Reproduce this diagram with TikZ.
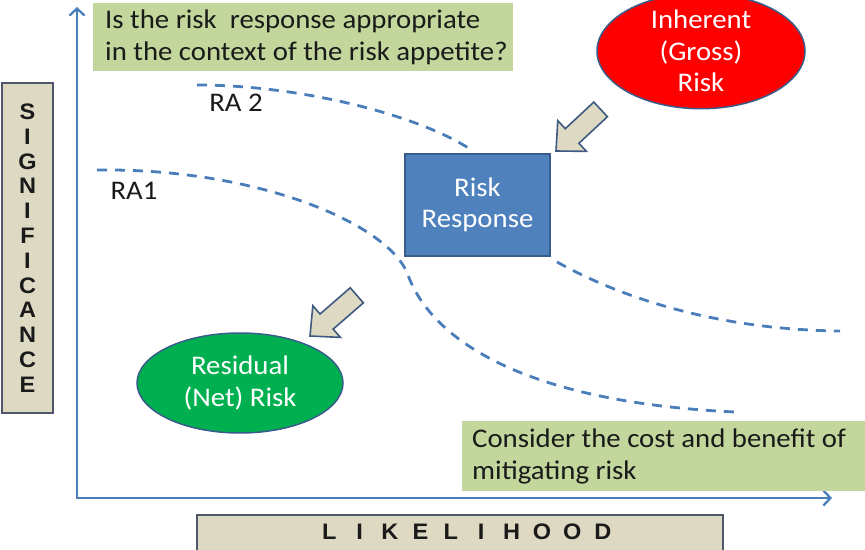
\documentclass[tikz,border=0pt]{standalone}
\usepackage{fontspec}
\setmainfont{Carlito}[FakeStretch=1.07]
\newfontfamily\axisfont{Liberation Sans}[FakeStretch=1.05]
\usetikzlibrary{shapes.geometric,arrows.meta}

\definecolor{axisblue}{HTML}{4A7EBB}
\definecolor{notegreen}{HTML}{C3D69B}
\definecolor{beige}{HTML}{DDD9C3}
\definecolor{frame}{HTML}{4E586A}
\definecolor{edgeblue}{HTML}{385D8A}
\definecolor{riskred}{HTML}{FF0000}
\definecolor{netgreen}{HTML}{00B050}
\definecolor{respblue}{HTML}{4F81BD}
\definecolor{arrowframe}{HTML}{3F5A80}
\definecolor{ink}{HTML}{1A1A1A}

\newcommand\bodyfont{\fontsize{27}{32}\selectfont}
\newcommand\axisletter[1]{\makebox[30.4bp]{#1}}

\tikzset{
  axis/.style={draw=axisblue, line width=2.3bp, line join=miter,
    {Straight Barb[length=7bp,width=15bp]}-{Straight Barb[length=7bp,width=15bp]}},
  riskline/.style={draw=axisblue, line width=2.8bp, dash pattern=on 10bp off 8bp},
  notebox/.style={fill=notegreen, inner sep=0, anchor=north west},
  notetext/.style={anchor=west, inner sep=0, align=left, text=ink, font=\bodyfont},
  labelbox/.style={fill=beige, draw=frame, line width=1.4bp, inner sep=0},
  axistext/.style={inner sep=0, align=center, text=ink,
    font={\axisfont\bfseries\fontsize{22.5}{24.9}\selectfont}},
  shapetext/.style={inner sep=0, align=center, text=white,
    font={\fontsize{27}{31.5}\selectfont}},
  riskellipse/.style={ellipse, draw=edgeblue, line width=1.5bp,
    minimum width=206bp, minimum height=100bp, shapetext},
  curvelabel/.style={inner sep=0, text=ink, font=\bodyfont},
  blockarrow/.style={fill=beige, draw=arrowframe, line width=1.6bp, line join=miter},
}

\begin{document}
\begin{tikzpicture}[x=1bp, y=-1bp]
\useasboundingbox (0,0) rectangle (865,550);

% axes
\coordinate (ytop) at (77,7);
\coordinate (origin) at (77,498);
\coordinate (xend) at (832,498);
\draw[axis] (ytop) -- (origin) -- (xend);

% axis captions
\node[labelbox, minimum width=51bp, minimum height=330bp] (sigbox) at (27.5,248) {};
\node[axistext] (sig) at (sigbox) {S\\I\\G\\N\\I\\F\\I\\C\\A\\N\\C\\E};
\node[labelbox, minimum width=526bp, minimum height=44bp] (likbox) at (460,537) {};
\node[axistext] (lik) at (466,532) {\axisletter{L}\axisletter{I}\axisletter{K}\axisletter{E}\axisletter{L}\axisletter{I}\axisletter{H}\axisletter{O}\axisletter{O}\axisletter{D}};

% risk appetite curves
\coordinate (ra2a) at (197,85);
\coordinate (ra2b) at (473,151);
\coordinate (ra2c) at (557,262);
\coordinate (ra2d) at (840,331);
\draw[riskline] (ra2a) .. controls (300,85) and (420,115) .. (ra2b);
\draw[riskline] (ra2c) .. controls (640,308) and (740,330) .. (ra2d);
\coordinate (ra1a) at (97,170);
\coordinate (ra1b) at (408,275);
\coordinate (ra1c) at (735,412);
\draw[riskline] (ra1a) .. controls (260,168) and (390,225) .. (ra1b)
  .. controls (422,314) and (480,400) .. (ra1c);
\node[curvelabel] (ra2) at (236,103) {RA 2};
\node[curvelabel] (ra1) at (134,191) {RA1};

% question boxes
\node[notebox, minimum width=420bp, minimum height=68bp] (qbox) at (93,3) {};
\node[notetext] (q) at ([xshift=12bp]qbox.west)
  {Is the risk\ \ response appropriate\\in the context of the risk appetite?};
\node[notebox, minimum width=403bp, minimum height=70bp] (cbox) at (462,421) {};
\node[notetext] (c) at ([xshift=10bp]cbox.west)
  {Consider the cost and benefit of\\mitigating risk};

% risk states
\node[riskellipse, fill=riskred, minimum width=208bp] (inherent) at (701,51) {Inherent\\(Gross)\\Risk};
\node[rectangle, fill=respblue, draw=edgeblue, line width=1.5bp,
  minimum width=145bp, minimum height=102bp, shapetext] (response) at (477.5,205) {Risk\\Response};
\node[riskellipse, fill=netgreen] (residual) at (240,383) {Residual\\(Net) Risk};

% block arrows between the states
\begin{scope}[shift={(556,151)}, rotate=223]
  \draw[blockarrow] (0,0) -- (-22,21) -- (-22,10) -- (-61,10) -- (-61,-10)
    -- (-22,-10) -- (-22,-21) -- cycle;
\end{scope}
\begin{scope}[shift={(310,336)}, rotate=221]
  \draw[blockarrow] (0,0) -- (-22,21) -- (-22,10) -- (-62,10) -- (-62,-10)
    -- (-22,-10) -- (-22,-21) -- cycle;
\end{scope}
\end{tikzpicture}
\end{document}
